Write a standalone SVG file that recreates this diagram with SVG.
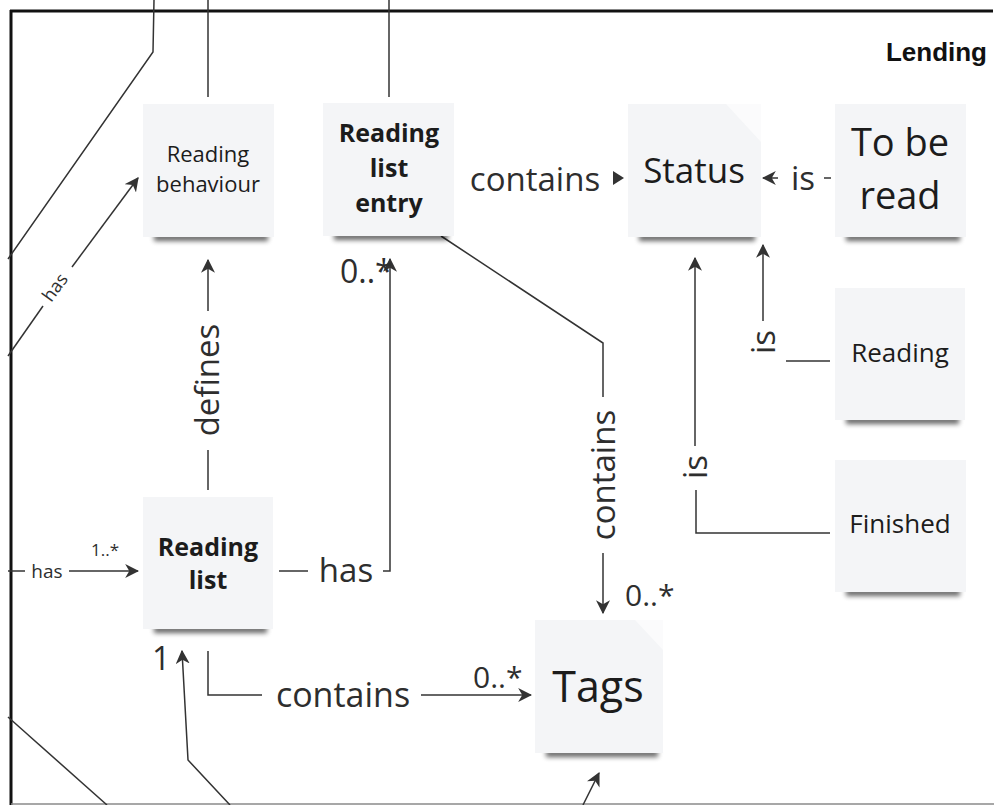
<svg xmlns="http://www.w3.org/2000/svg" width="994" height="805" viewBox="0 0 994 805">
  <defs>
    <style>
      .note { fill: #f4f5f7; }
      .shadow { fill: #000; opacity: 0.6; filter: url(#soft); }
      .fold { fill: #ffffff; opacity: 0.6; }
      .ntxt { font-family: "Open Sans", "Noto Sans", sans-serif; fill: #1c1c1c; text-anchor: middle; }
      .bold { font-weight: 700; }
      .lbl { font-family: "Open Sans", "Noto Sans", sans-serif; fill: #2e2e2e; }
      .line { fill: none; stroke: #333; stroke-width: 1.5; }
      .arr { marker-end: url(#head); }
    </style>
    <filter id="soft" x="-20%" y="-100%" width="140%" height="300%">
      <feGaussianBlur stdDeviation="2.8"/>
    </filter>
    <marker id="head" viewBox="0 0 12 12" refX="11" refY="6" markerWidth="14" markerHeight="14" markerUnits="userSpaceOnUse" orient="auto">
      <path d="M0,0 L12,6 L0,12 L3.5,6 z" fill="#333"/>
    </marker>
  </defs>

  <rect width="994" height="805" fill="#ffffff"/>

  <!-- frame -->
  <path d="M10,11 H993" stroke="#111" stroke-width="3" fill="none"/>
  <path d="M11,10 V805" stroke="#111" stroke-width="3" fill="none"/>
  <path d="M11,804 H994" stroke="#8a8a8a" stroke-width="1.5" fill="none"/>
  <text x="987" y="61" font-family="Liberation Sans, Arial, sans-serif" font-weight="700" font-size="26" text-anchor="end" fill="#111">Lending</text>

  <!-- connectors -->
  <g id="connectors">
    <path class="line" d="M208,0 V97"/>
    <path class="line" d="M389,0 V97"/>
    <path class="line" d="M154,0 L153,52 L8,259"/>
    <path class="line" d="M8,717 L107,805"/>

    <!-- has: to Reading behaviour -->
    <path class="line" d="M8,356 L43,306"/>
    <path class="line arr" d="M72,267 L138,178"/>
    <text class="lbl" font-size="18" text-anchor="middle" transform="translate(60,291) rotate(-54)">has</text>

    <!-- defines -->
    <path class="line" d="M208,490 V450"/>
    <path class="line arr" d="M208,311 V260"/>
    <text class="lbl" font-size="33" text-anchor="middle" transform="translate(219,380) rotate(-90)">defines</text>

    <!-- has: Reading list -> Reading list entry -->
    <path class="line" d="M279,571 H308"/>
    <path class="line arr" d="M383,571 H390 V259"/>
    <text class="lbl" font-size="33" x="346" y="582" text-anchor="middle">has</text>
    <text class="lbl" font-size="32" x="340" y="283">0..*</text>

    <!-- contains: Reading list entry -> Status -->
    <text class="lbl" font-size="33" x="535" y="191" text-anchor="middle">contains</text>
    <path d="M613,171 L624,178 L613,185 z" fill="#333"/>

    <!-- is: To be read -> Status -->
    <path class="line arr" d="M778,178 H763"/>
    <text class="lbl" font-size="33" x="803" y="190" text-anchor="middle">is</text>
    <path class="line" d="M824,178 H831"/>

    <!-- is: Reading -> Status -->
    <path class="line" d="M830,361 H786"/>
    <path class="line arr" d="M763,321 V245"/>
    <text class="lbl" font-size="33" text-anchor="middle" transform="translate(775,342) rotate(-90)">is</text>

    <!-- is: Finished -> Status -->
    <path class="line" d="M830,533 H696 V490"/>
    <path class="line arr" d="M695,446 V258"/>
    <text class="lbl" font-size="33" text-anchor="middle" transform="translate(707,467) rotate(-90)">is</text>

    <!-- contains: Reading list entry -> Tags -->
    <path class="line" d="M441,236 L603,343 V397"/>
    <path class="line arr" d="M603,553 V613"/>
    <text class="lbl" font-size="33" text-anchor="middle" transform="translate(615,475) rotate(-90)">contains</text>
    <text class="lbl" font-size="30" x="625" y="606">0..*</text>

    <!-- has 1..*: into Reading list -->
    <path class="line" d="M8,571 H25"/>
    <path class="line arr" d="M69,571 H138"/>
    <text class="lbl" font-size="19" x="47" y="578" text-anchor="middle">has</text>
    <text class="lbl" font-size="17" x="91" y="556">1..*</text>

    <!-- contains: Reading list -> Tags -->
    <path class="line" d="M208,651 V695 H262"/>
    <path class="line arr" d="M421,695 H531"/>
    <text class="lbl" font-size="34" x="343" y="707" text-anchor="middle">contains</text>
    <text class="lbl" font-size="30" x="473" y="688">0..*</text>

    <!-- into Reading list from below -->
    <path class="line arr" d="M230,805 L188,760 L182,651"/>
    <text class="lbl" font-size="32" x="152" y="670">1</text>

    <!-- into Tags from below -->
    <path class="line arr" d="M583,805 L599,773"/>
  </g>

  <!-- Reading behaviour -->
  <g id="reading-behaviour">
    <rect class="shadow" x="154" y="234" width="114" height="7"/>
    <rect class="note" x="143" y="104" width="131" height="133"/>
    <text class="ntxt" font-size="22" x="208" y="162">Reading</text>
    <text class="ntxt" font-size="22" x="208" y="192">behaviour</text>
  </g>

  <!-- Reading list entry -->
  <g id="reading-list-entry">
    <rect class="shadow" x="334" y="233" width="114" height="7"/>
    <rect class="note" x="323" y="103" width="131" height="133"/>
    <text class="ntxt bold" font-size="25" x="389" y="142">Reading</text>
    <text class="ntxt bold" font-size="25" x="389" y="177">list</text>
    <text class="ntxt bold" font-size="25" x="389" y="212">entry</text>
  </g>

  <!-- Status -->
  <g id="status">
    <rect class="shadow" x="639" y="234" width="116" height="7"/>
    <rect class="note" x="628" y="104" width="133" height="133"/>
    <path class="fold" d="M726,104 H761 V142 z"/>
    <text class="ntxt" font-size="35" x="694" y="183">Status</text>
  </g>

  <!-- To be read -->
  <g id="to-be-read">
    <rect class="shadow" x="846" y="234" width="114" height="7"/>
    <rect class="note" x="835" y="104" width="131" height="133"/>
    <text class="ntxt" font-size="38" x="900" y="156">To be</text>
    <text class="ntxt" font-size="38" x="900" y="209">read</text>
  </g>

  <!-- Reading (status) -->
  <g id="reading">
    <rect class="shadow" x="846" y="417" width="113" height="7"/>
    <rect class="note" x="835" y="288" width="130" height="132"/>
    <text class="ntxt" font-size="26" x="900" y="362">Reading</text>
  </g>

  <!-- Finished -->
  <g id="finished">
    <rect class="shadow" x="846" y="589" width="114" height="7"/>
    <rect class="note" x="835" y="460" width="131" height="132"/>
    <text class="ntxt" font-size="26" x="900" y="533">Finished</text>
  </g>

  <!-- Reading list -->
  <g id="reading-list">
    <rect class="shadow" x="154" y="626" width="113" height="7"/>
    <rect class="note" x="143" y="497" width="130" height="132"/>
    <text class="ntxt bold" font-size="25" x="208" y="556">Reading</text>
    <text class="ntxt bold" font-size="25" x="208" y="589">list</text>
  </g>

  <!-- Tags -->
  <g id="tags">
    <rect class="shadow" x="546" y="750" width="112" height="7"/>
    <rect class="note" x="535" y="620" width="128" height="133"/>
    <path class="fold" d="M635,620 H663 V650 z"/>
    <text class="ntxt" font-size="43" x="598" y="702">Tags</text>
  </g>
</svg>
